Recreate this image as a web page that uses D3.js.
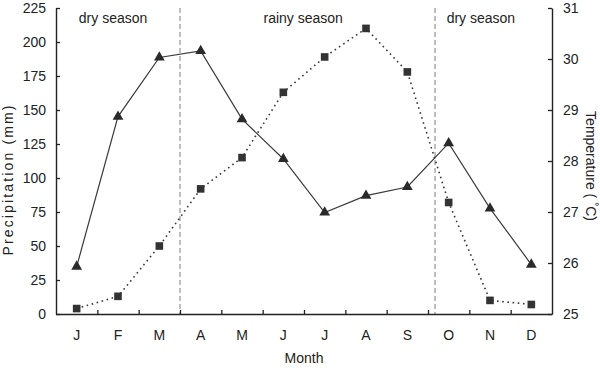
<!DOCTYPE html>
<html>
<head>
<meta charset="utf-8">
<script src="https://cdn.jsdelivr.net/npm/d3@7"></script>
<style>
  html, body { margin: 0; padding: 0; background: #fff; }
  svg { display: block; font-family: "Liberation Sans", Arial, sans-serif; }
</style>
</head>
<body>
<svg id="chart" width="600" height="368"></svg>
<script>
// ---- data ----
const months = ["J", "F", "M", "A", "M", "J", "J", "A", "S", "O", "N", "D"];
const precipitation = [4, 13, 50, 92, 115, 163, 189, 210, 178, 82, 10, 7];
const temperature = [25.93, 28.87, 30.03, 30.16, 28.82, 28.04, 26.99, 27.32, 27.49, 28.35, 27.07, 25.97];
const precipTicks = [0, 25, 50, 75, 100, 125, 150, 175, 200, 225];
const tempTicks = [25, 26, 27, 28, 29, 30, 31];
const seasonBreaks = [3, 9.17];           // in month units
const seasonNames = ["dry season", "rainy season", "dry season"];
const seasonLabelPos = [1.38, 5.98, 10.28]; // in month units

// ---- layout ----
const L = 56, R = 552, T = 8, B = 314;
const svg = d3.select("#chart");
const ink = "#222";

const xLin = d3.scaleLinear().domain([0, months.length]).range([L, R]);
const xc = i => xLin(i + 0.5);
const yP = d3.scaleLinear().domain([0, 225]).range([B, T]);
const yT = d3.scaleLinear().domain([25, 31]).range([B, T]);

// season separators
svg.append("g").selectAll("line").data(seasonBreaks).join("line")
  .attr("x1", d => xLin(d)).attr("x2", d => xLin(d))
  .attr("y1", T).attr("y2", B)
  .attr("stroke", "#8a8a8a").attr("stroke-width", 1.1)
  .attr("stroke-dasharray", "5,3");

// season labels
svg.append("g").selectAll("text").data(seasonNames).join("text")
  .attr("x", (d, i) => xLin(seasonLabelPos[i])).attr("y", 23)
  .attr("text-anchor", "middle").attr("font-size", 14).attr("fill", ink)
  .text(d => d);

// axes
function styleAxis(g) {
  g.selectAll(".domain").attr("stroke", ink).attr("stroke-width", 1.4);
  g.selectAll(".tick line").attr("stroke", ink).attr("stroke-width", 1.3);
  g.selectAll(".tick text").attr("fill", ink).attr("font-size", 14)
    .attr("font-family", "Liberation Sans, Arial, sans-serif");
}

svg.append("g").attr("transform", `translate(${L},0)`)
  .call(d3.axisLeft(yP).tickValues(precipTicks).tickSize(-4).tickSizeOuter(0).tickPadding(10).tickFormat(d3.format("d")))
  .call(styleAxis);

svg.append("g").attr("transform", `translate(${R},0)`)
  .call(d3.axisRight(yT).tickValues(tempTicks).tickSize(-4).tickSizeOuter(0).tickPadding(11).tickFormat(d3.format("d")))
  .call(styleAxis);

// bottom axis: ticks at month boundaries
svg.append("g").attr("transform", `translate(0,${B})`)
  .call(d3.axisBottom(xLin).tickValues(d3.range(1, months.length)).tickSize(-4).tickSizeOuter(0).tickFormat(""))
  .call(styleAxis);

// month labels via band scale axis
const xBand = d3.scaleBand().domain(d3.range(months.length)).range([L, R]).padding(0);
const mg = svg.append("g").attr("transform", `translate(0,${B})`)
  .call(d3.axisBottom(xBand).tickSize(0).tickPadding(16).tickFormat(i => months[i]));
mg.select(".domain").remove();
mg.selectAll(".tick text").attr("fill", ink).attr("font-size", 14)
  .attr("font-family", "Liberation Sans, Arial, sans-serif");

// axis titles
svg.append("text").attr("x", xLin(6)).attr("y", 363)
  .attr("text-anchor", "middle").attr("font-size", 14).attr("fill", ink).text("Month");

svg.append("text")
  .attr("transform", "translate(13,180.5) rotate(-90)")
  .attr("text-anchor", "middle").attr("font-size", 14).attr("fill", ink)
  .attr("textLength", 150).attr("lengthAdjust", "spacing")
  .text("Precipitation (mm)");

const tt = svg.append("text")
  .attr("transform", "translate(586,166) rotate(90)")
  .attr("text-anchor", "middle").attr("font-size", 14).attr("fill", ink);
tt.append("tspan").text("Temperature ( ");
tt.append("tspan").attr("font-size", 10).attr("dy", -5).text("°");
tt.append("tspan").attr("dy", 5).text("C)");

// precipitation: dotted line + squares
const lineP = d3.line().x((d, i) => xc(i)).y(d => yP(d));
svg.append("path").datum(precipitation)
  .attr("d", lineP).attr("fill", "none")
  .attr("stroke", "#3a3a3a").attr("stroke-width", 1.6)
  .attr("stroke-dasharray", "1.6,3.6");

svg.append("g").selectAll("path").data(precipitation).join("path")
  .attr("d", d3.symbol(d3.symbolSquare, 58))
  .attr("transform", (d, i) => `translate(${xc(i)},${yP(d)})`)
  .attr("fill", "#333");

// temperature: solid line + triangles
const lineT = d3.line().x((d, i) => xc(i)).y(d => yT(d));
svg.append("path").datum(temperature)
  .attr("d", lineT).attr("fill", "none")
  .attr("stroke", "#3a3a3a").attr("stroke-width", 1.2);

svg.append("g").selectAll("path").data(temperature).join("path")
  .attr("d", d3.symbol(d3.symbolTriangle, 50))
  .attr("transform", (d, i) => `translate(${xc(i)},${yT(d)})`)
  .attr("fill", "#2a2a2a");
</script>
</body>
</html>
